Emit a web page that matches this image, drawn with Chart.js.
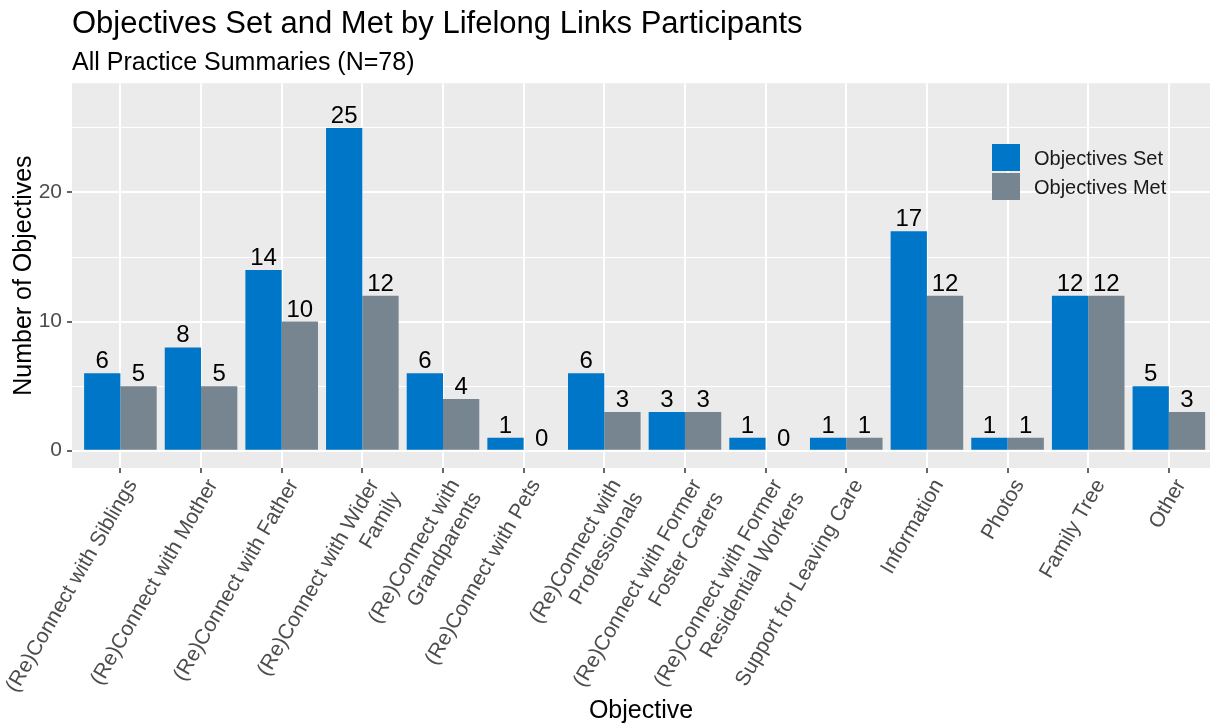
<!DOCTYPE html>
<html>
<head>
<meta charset="utf-8">
<script src="https://cdn.jsdelivr.net/npm/chart.js@4/dist/chart.umd.min.js"></script>
<style>
html, body { margin: 0; padding: 0; background: #ffffff; }
#wrap { width: 1210px; height: 726px; position: relative; }
</style>
</head>
<body>
<div id="wrap"><canvas id="c"></canvas></div>
<script>
const categories = [
  ["(Re)Connect with Siblings"],
  ["(Re)Connect with Mother"],
  ["(Re)Connect with Father"],
  ["(Re)Connect with Wider", "Family"],
  ["(Re)Connect with", "Grandparents"],
  ["(Re)Connect with Pets"],
  ["(Re)Connect with", "Professionals"],
  ["(Re)Connect with Former", "Foster Carers"],
  ["(Re)Connect with Former", "Residential Workers"],
  ["Support for Leaving Care"],
  ["Information"],
  ["Photos"],
  ["Family Tree"],
  ["Other"]
];
const objectivesSet = [6, 8, 14, 25, 6, 1, 6, 3, 1, 1, 17, 1, 12, 5];
const objectivesMet = [5, 5, 10, 12, 4, 0, 3, 3, 0, 1, 12, 1, 12, 3];
const yTickValues = [0, 5, 10, 15, 20, 25];
const seriesNames = ["Objectives Set", "Objectives Met"];

const FONT = "'Liberation Sans', Arial, sans-serif";
const COLOR_SET = '#0076C8';
const COLOR_MET = '#778591';

const panelPlugin = {
  id: 'panel',
  beforeDraw(chart) {
    const {ctx, chartArea: a} = chart;
    ctx.save();
    ctx.fillStyle = '#EBEBEB';
    ctx.fillRect(a.left, a.top, a.right - a.left, a.bottom - a.top);
    ctx.restore();
  }
};

const valueLabelPlugin = {
  id: 'valueLabels',
  afterDatasetsDraw(chart) {
    const ctx = chart.ctx;
    ctx.save();
    ctx.font = '24px ' + FONT;
    ctx.fillStyle = '#000000';
    ctx.textAlign = 'center';
    ctx.textBaseline = 'alphabetic';
    chart.data.datasets.forEach((ds, di) => {
      const meta = chart.getDatasetMeta(di);
      meta.data.forEach((el, i) => {
        ctx.fillText(String(ds.data[i].y), el.x, el.y - 5);
      });
    });
    ctx.restore();
  }
};

const legendPlugin = {
  id: 'customLegend',
  afterDraw(chart) {
    const ctx = chart.ctx;
    ctx.save();
    ctx.font = '20px ' + FONT;
    ctx.textAlign = 'left';
    ctx.textBaseline = 'middle';
    chart.data.datasets.forEach((ds, i) => {
      const x = 992, y = 144 + i * 29;
      ctx.fillStyle = ds.backgroundColor;
      ctx.fillRect(x, y, 28, 27);
      ctx.fillStyle = '#1a1a1a';
      ctx.fillText(ds.label, 1034, y + 15);
    });
    ctx.restore();
  }
};

new Chart(document.getElementById('c'), {
  type: 'bar',
  data: {
    datasets: [
      {
        label: seriesNames[0],
        data: objectivesSet.map((v, i) => ({x: i, y: v})),
        backgroundColor: COLOR_SET,
        borderWidth: 0,
        categoryPercentage: 0.9,
        barPercentage: 1.0
      },
      {
        label: seriesNames[1],
        data: objectivesMet.map((v, i) => ({x: i, y: v})),
        backgroundColor: COLOR_MET,
        borderWidth: 0,
        categoryPercentage: 0.9,
        barPercentage: 1.0
      }
    ]
  },
  options: {
    responsive: true,
    maintainAspectRatio: false,
    animation: false,
    devicePixelRatio: 1,
    layout: { padding: 0 },
    plugins: {
      legend: { display: false },
      tooltip: { enabled: false },
      title: {
        display: true,
        text: 'Objectives Set and Met by Lifelong Links Participants',
        align: 'start',
        fullSize: false,
        color: '#000000',
        font: { family: FONT, size: 31, weight: 'normal' },
        padding: { top: 6, bottom: 5 }
      },
      subtitle: {
        display: true,
        text: 'All Practice Summaries (N=78)',
        align: 'start',
        fullSize: false,
        color: '#000000',
        font: { family: FONT, size: 25, weight: 'normal' },
        padding: { top: 0, bottom: 5 }
      }
    },
    scales: {
      x: {
        type: 'linear',
        min: -0.6,
        max: 13.51,
        offset: false,
        afterBuildTicks(scale) {
          scale.ticks = categories.map((c, i) => ({value: i}));
        },
        afterFit(scale) {
          scale.height = 258;
          scale.paddingLeft = 0;
          scale.paddingRight = 0;
        },
        border: { display: false },
        grid: {
          offset: false,
          color: '#FFFFFF',
          lineWidth: 2,
          drawTicks: true,
          tickLength: 5,
          tickColor: '#333333',
          tickWidth: 1.5
        },
        ticks: {
          autoSkip: false,
          minRotation: 60,
          maxRotation: 60,
          padding: 2,
          labelOffset: 12,
          color: '#4D4D4D',
          font: { family: FONT, size: 21 },
          callback: (v) => categories[v] || ''
        },
        title: {
          display: true,
          text: 'Objective',
          color: '#000000',
          font: { family: FONT, size: 25 },
          padding: { top: 0, bottom: 0 }
        }
      },
      y: {
        min: -1.34,
        max: 28.46,
        afterBuildTicks(scale) {
          scale.ticks = yTickValues.map(v => ({value: v}));
        },
        afterFit(scale) {
          scale.width = 72;
          scale.paddingTop = 0;
          scale.paddingBottom = 0;
        },
        border: { display: false },
        grid: {
          color: '#FFFFFF',
          lineWidth: (ctx) => (ctx.tick && ctx.tick.value % 10 === 0) ? 2 : 1,
          drawTicks: true,
          tickLength: 5,
          tickColor: (ctx) => (ctx.tick && ctx.tick.value % 10 === 0) ? '#333333' : 'rgba(0,0,0,0)',
          tickWidth: 1.5
        },
        ticks: {
          padding: 5,
          color: '#4D4D4D',
          font: { family: FONT, size: 21 },
          callback: (v) => (v % 10 === 0) ? String(v) : ''
        },
        title: {
          display: true,
          text: 'Number of Objectives',
          color: '#000000',
          font: { family: FONT, size: 25 },
          padding: { top: 9, bottom: 0 }
        }
      }
    }
  },
  plugins: [panelPlugin, valueLabelPlugin, legendPlugin]
});
</script>
</body>
</html>
